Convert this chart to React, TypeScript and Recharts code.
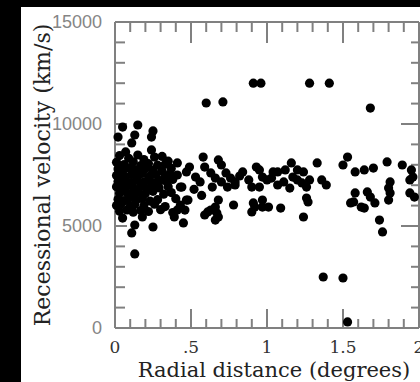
import React from 'react';
import { ScatterChart, Scatter, XAxis, YAxis } from 'recharts';

// Radial distance (degrees), recessional velocity (km/s)
const innerDistance = [
  0.05, 0.15, 0.25, 0.24, 0.13, 0.02, 0.11, 0.07, 0.24, 0.26, 0.41, 0.41, 0.43, 0.39, 0.45, 0.25, 0.13, 0.11, 0.05, 0.18,
  0.03, 0.09, 0.15, 0.19, 0.31, 0.35,
  0.01, 0.06, 0.12, 0.17, 0.22, 0.28, 0.33,
  0.02, 0.05, 0.09, 0.13, 0.16, 0.2, 0.25, 0.31, 0.37,
  0.01, 0.04, 0.07, 0.11, 0.15, 0.18, 0.23, 0.27, 0.33, 0.36,
  0.02, 0.06, 0.1, 0.14, 0.19, 0.22, 0.26, 0.3, 0.34, 0.38,
  0.01, 0.05, 0.08, 0.12, 0.17, 0.21, 0.24, 0.29, 0.35,
  0.03, 0.07, 0.11, 0.15, 0.2, 0.25, 0.32, 0.37,
  0.02, 0.06, 0.09, 0.14, 0.18, 0.23, 0.28, 0.4,
  0.01, 0.04, 0.1, 0.13, 0.19, 0.26, 0.33, 0.43,
  0.03, 0.08, 0.12, 0.17, 0.22, 0.3, 0.38,
  0.44, 0.47, 0.41,
];
const innerVelocity = [
  9850, 9950, 9660, 9360, 9460, 9360, 9070, 8630, 8730, 8380, 8090, 7500, 6910, 5440, 5150, 4950, 5050, 4660, 5390, 5440,
  8450, 8320, 8480, 8260, 8410, 8180,
  8120, 8010, 8150, 7960, 8060, 7980, 8030,
  7790, 7700, 7850, 7760, 7690, 7810, 7740, 7690, 7820,
  7480, 7560, 7420, 7530, 7450, 7580, 7440, 7520, 7400, 7550,
  7180, 7260, 7130, 7240, 7160, 7290, 7120, 7230, 7170, 7280,
  6920, 6850, 6970, 6880, 6940, 6830, 6960, 6870, 6920,
  6610, 6680, 6570, 6650, 6590, 6700, 6560, 6640,
  6310, 6240, 6360, 6280, 6330, 6220, 6290, 6340,
  6010, 6080, 5970, 6050, 5990, 6070, 5950, 6020,
  5720, 5790, 5680, 5760, 5710, 5800, 5660,
  6910, 6270, 5780,
];

const middleDistance = [
  0.58, 0.68, 0.7, 0.59, 0.49, 0.47, 0.53, 0.56, 0.63, 0.66, 0.7, 0.76, 0.79, 0.84, 0.93, 0.97, 0.88, 0.9, 0.74, 0.79,
  0.64, 0.48, 0.68, 0.78, 0.66, 0.61, 0.59, 0.68, 0.66, 0.92, 0.9, 0.97, 0.46, 0.63, 0.67, 0.91, 0.52, 0.57, 0.73, 0.82,
  1.16, 1.33, 0.95, 1.04, 1.07, 1.12, 1.2, 1.24, 1.0, 1.03, 1.07, 1.11, 1.17, 1.2, 1.23, 1.28, 1.36, 1.39, 0.95, 1.15,
  1.26, 1.26, 1.27, 0.97, 1.01, 1.09, 1.24,
];
const middleVelocity = [
  8380, 8240, 7990, 7890, 7890, 7650, 7400, 7160, 7600, 7350, 7160, 7350, 7160, 7650, 7890, 7400, 7260, 6910, 6910, 7010,
  6910, 6270, 6270, 6030, 5930, 5690, 5540, 5440, 5290, 5930, 5690, 6270, 5780, 5780, 5640, 6130, 6800, 6500, 7600, 7450,
  8090, 8090, 7750, 7650, 7650, 7750, 7750, 7650, 7260, 7350, 7010, 7160, 7400, 7260, 7110, 7260, 7260, 7010, 6910, 6860,
  6910, 6370, 6180, 5930, 5930, 5880, 5440,
];

const outerDistance = [
  1.53, 1.5, 1.58, 1.64, 1.7, 1.79, 1.89, 1.95, 1.96, 1.94, 1.58, 1.81, 1.8, 1.81, 1.8, 1.66, 1.68, 1.71, 1.55, 1.57,
  1.62, 1.64, 1.94, 1.97, 1.74, 1.76,
];
const outerVelocity = [
  8380, 7990, 7650, 7750, 7840, 8140, 7990, 7750, 7400, 7260, 6620, 7160, 6860, 6620, 6270, 6670, 6420, 6130, 6130, 6180,
  5930, 5880, 6620, 6420, 5290, 4710,
];

const outlierDistance = [0.6, 0.71, 0.91, 0.96, 1.28, 1.41, 1.68, 0.13, 1.37, 1.5, 1.53];
const outlierVelocity = [11030, 11080, 12000, 12000, 12000, 12000, 10780, 3630, 2500, 2450, 300];

const xTicks = [0, 0.1, 0.2, 0.3, 0.4, 0.5, 0.6, 0.7, 0.8, 0.9, 1, 1.1, 1.2, 1.3, 1.4, 1.5, 1.6, 1.7, 1.8, 1.9, 2];
const yTicks = [0, 1000, 2000, 3000, 4000, 5000, 6000, 7000, 8000, 9000, 10000, 11000, 12000, 13000, 14000, 15000];
const xMajorLabels: Record<string, string> = { '0': '0', '0.5': '.5', '1': '1', '1.5': '1.5', '2': '2' };
const yMajorLabels: Record<string, string> = { '0': '0', '5000': '5000', '10000': '10000', '15000': '15000' };
const xDomain = [0, 2];
const yDomain = [0, 15000];

const data = [
  ...innerDistance.map((d, i) => ({ distance: d, velocity: innerVelocity[i] })),
  ...middleDistance.map((d, i) => ({ distance: d, velocity: middleVelocity[i] })),
  ...outerDistance.map((d, i) => ({ distance: d, velocity: outerVelocity[i] })),
  ...outlierDistance.map((d, i) => ({ distance: d, velocity: outlierVelocity[i] })),
];

// tick marks placed on the four frame edges through the chart's own scales
const bottomTickData = xTicks.map((v) => ({ distance: v, velocity: yDomain[0] }));
const topTickData = xTicks.map((v) => ({ distance: v, velocity: yDomain[1] }));
const leftTickData = yTicks.map((v) => ({ distance: xDomain[0], velocity: v }));
const rightTickData = yTicks.map((v) => ({ distance: xDomain[1], velocity: v }));

const AXIS = '#808080';
const SW = 2;
const SERIF = '"DejaVu Serif", serif';
const SANS = '"Liberation Sans", Arial, sans-serif';

const isMajorX = (v: number) => xMajorLabels[String(v)] !== undefined;
const isMajorY = (v: number) => yMajorLabels[String(v)] !== undefined;

const BottomMark = (p: any) => {
  const len = isMajorX(p.payload.distance) ? 19 : 9;
  return <line x1={p.cx} x2={p.cx} y1={p.cy} y2={p.cy - len} stroke={AXIS} strokeWidth={SW} />;
};
const TopMark = (p: any) => {
  const len = isMajorX(p.payload.distance) ? 21 : 10;
  return <line x1={p.cx} x2={p.cx} y1={p.cy} y2={p.cy + len} stroke={AXIS} strokeWidth={SW} />;
};
const LeftMark = (p: any) => {
  const len = isMajorY(p.payload.velocity) ? 12 : 10;
  return <line x1={p.cx} x2={p.cx + len} y1={p.cy} y2={p.cy} stroke={AXIS} strokeWidth={SW} />;
};
const RightMark = (p: any) => {
  const len = isMajorY(p.payload.velocity) ? 18 : 8;
  return <line x1={p.cx} x2={p.cx - len} y1={p.cy} y2={p.cy} stroke={AXIS} strokeWidth={SW} />;
};

const BottomLabel = (props: any) => {
  const v = props.payload.value;
  if (!isMajorX(v)) return <g />;
  return (
    <text x={Number(props.x)} y={Number(props.y) + 25} textAnchor="middle" fontFamily={SERIF} fontSize={17} fill="#333" stroke="none">
      {xMajorLabels[String(v)]}
    </text>
  );
};

const LeftLabel = (props: any) => {
  const v = props.payload.value;
  if (!isMajorY(v)) return <g />;
  return (
    <text x={Number(props.x) - 13} y={Number(props.y)} dy="0.36em" textAnchor="end" fontFamily={SANS} fontSize={18} fill="#858585" stroke="none">
      {yMajorLabels[String(v)]}
    </text>
  );
};

const Dot = (props: any) => <circle cx={props.cx} cy={props.cy} r={4.6} fill="#000" />;

export default function App() {
  return (
    <div style={{ position: 'fixed', left: 0, top: 0, width: 420, height: 382, overflow: 'hidden', background: '#000' }}>
      <div style={{ position: 'absolute', left: 21, top: 7, width: 399, height: 375, background: '#fff' }} />
      <div style={{ position: 'absolute', left: 0, top: 0 }}>
        <ScatterChart width={430} height={382} margin={{ top: 21, right: 10, bottom: 4, left: 15 }}>
          <XAxis
            xAxisId="b"
            dataKey="distance"
            type="number"
            domain={xDomain}
            ticks={xTicks}
            interval={0}
            tickSize={0}
            tickMargin={0}
            tickLine={false}
            tick={BottomLabel}
            height={50}
            axisLine={{ stroke: AXIS, strokeWidth: SW }}
            label={{ value: 'Radial distance (degrees)', position: 'insideBottom', offset: 1, dx: 7, fill: '#222', fontSize: 21, fontFamily: SERIF }}
          />
          <XAxis
            xAxisId="t"
            orientation="top"
            type="number"
            domain={xDomain}
            tick={false}
            tickLine={false}
            height={1}
            axisLine={{ stroke: AXIS, strokeWidth: SW }}
          />
          <YAxis
            yAxisId="l"
            dataKey="velocity"
            type="number"
            domain={yDomain}
            ticks={yTicks}
            interval={0}
            tickSize={0}
            tickMargin={0}
            tickLine={false}
            tick={LeftLabel}
            width={100}
            axisLine={{ stroke: AXIS, strokeWidth: SW }}
            label={{ value: 'Recessional velocity (km/s)', angle: -90, position: 'insideLeft', offset: 27, fill: '#222', fontSize: 22, fontFamily: SERIF, style: { textAnchor: 'middle' } }}
          />
          <YAxis
            yAxisId="r"
            orientation="right"
            type="number"
            domain={yDomain}
            tick={false}
            tickLine={false}
            width={1}
            axisLine={{ stroke: AXIS, strokeWidth: SW }}
          />
          <Scatter xAxisId="b" yAxisId="l" data={bottomTickData} shape={BottomMark} isAnimationActive={false} />
          <Scatter xAxisId="b" yAxisId="l" data={topTickData} shape={TopMark} isAnimationActive={false} />
          <Scatter xAxisId="b" yAxisId="l" data={leftTickData} shape={LeftMark} isAnimationActive={false} />
          <Scatter xAxisId="b" yAxisId="l" data={rightTickData} shape={RightMark} isAnimationActive={false} />
          <Scatter xAxisId="b" yAxisId="l" data={data} shape={Dot} isAnimationActive={false} />
        </ScatterChart>
      </div>
    </div>
  );
}
